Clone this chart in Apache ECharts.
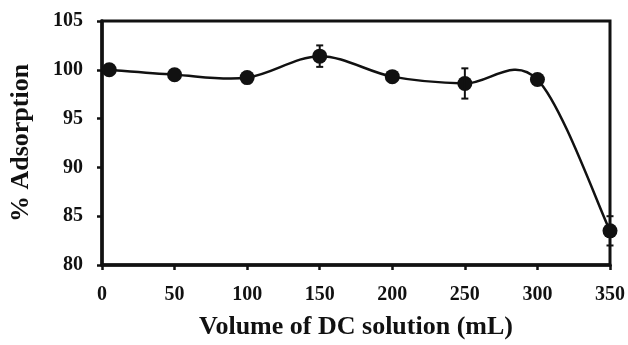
<!DOCTYPE html>
<html>
<head>
<meta charset="utf-8">
<script src="https://cdn.jsdelivr.net/npm/echarts@6/dist/echarts.min.js"></script>
<style>html,body{margin:0;padding:0;background:#fff}#c{width:628px;height:345px}</style>
</head>
<body>
<div id="c"></div>
<script>
var volumes = [5, 50, 100, 150, 200, 250, 300, 350];
var adsorption = [100.0, 99.5, 99.2, 101.4, 99.3, 98.6, 99.0, 83.5];
var errors = [0, 0, 0, 1.1, 0, 1.55, 0, 1.5];
var xTicks = [0, 50, 100, 150, 200, 250, 300, 350];
var yTicks = [80, 85, 90, 95, 100, 105];

var chart = echarts.init(document.getElementById('c'));
var font = 'Liberation Serif';
var lineData = volumes.map(function (v, i) { return [v, adsorption[i]]; });
var errData = volumes.map(function (v, i) { return [v, adsorption[i] - errors[i], adsorption[i] + errors[i]]; })
  .filter(function (d, i) { return errors[i] > 0; });

chart.setOption({
  animation: false,
  grid: { left: 101, right: 16, top: 21, bottom: 76, show: true, borderColor: '#111', borderWidth: 3 },
  xAxis: {
    type: 'value', min: 0, max: 350, interval: 50,
    name: 'Volume of DC solution (mL)', nameLocation: 'middle', nameGap: 49,
    nameTextStyle: { fontFamily: font, fontWeight: 'bold', fontSize: 26, color: '#111' },
    axisLine: { show: true, lineStyle: { color: '#111', width: 3.5 } },
    axisTick: { show: true, length: 5, lineStyle: { color: '#111', width: 2.5 } },
    axisLabel: { fontFamily: font, fontWeight: 'bold', fontSize: 20, color: '#111', margin: 20,
      formatter: function (v) { return xTicks.indexOf(v) >= 0 ? String(v) : ''; } },
    splitLine: { show: false }
  },
  yAxis: {
    type: 'value', min: 80, max: 105, interval: 5,
    name: '% Adsorption', nameLocation: 'middle', nameGap: 68,
    nameTextStyle: { fontFamily: font, fontWeight: 'bold', fontSize: 26, color: '#111' },
    axisLine: { show: true, lineStyle: { color: '#111', width: 3.5 } },
    axisTick: { show: true, length: 5, lineStyle: { color: '#111', width: 2.5 } },
    axisLabel: { fontFamily: font, fontWeight: 'bold', fontSize: 20, color: '#111', margin: 19,
      formatter: function (v) { return yTicks.indexOf(v) >= 0 ? String(v) : ''; } },
    splitLine: { show: false }
  },
  series: [
    {
      type: 'custom', data: lineData, z: 2,
      renderItem: function (params, api) {
        var i = params.dataIndex, n = volumes.length;
        if (i >= n - 1) return null;
        function pt(j) { j = Math.max(0, Math.min(n - 1, j)); return api.coord([volumes[j], adsorption[j]]); }
        var p0 = pt(i - 1), p1 = pt(i), p2 = pt(i + 1), p3 = pt(i + 2);
        var t = 1 / 6;
        return {
          type: 'bezierCurve',
          shape: {
            x1: p1[0], y1: p1[1], x2: p2[0], y2: p2[1],
            cpx1: p1[0] + (p2[0] - p0[0]) * t, cpy1: p1[1] + (p2[1] - p0[1]) * t,
            cpx2: p2[0] - (p3[0] - p1[0]) * t, cpy2: p2[1] - (p3[1] - p1[1]) * t
          },
          style: { stroke: '#111', lineWidth: 2.5, fill: null }
        };
      }
    },
    {
      type: 'scatter', data: lineData, symbol: 'circle', symbolSize: 15,
      itemStyle: { color: '#111', opacity: 1 }, z: 3
    },
    {
      type: 'custom', data: errData, z: 4,
      renderItem: function (params, api) {
        var x = api.value(0);
        var lo = api.coord([x, api.value(1)]);
        var hi = api.coord([x, api.value(2)]);
        var w = 3.5;
        var st = { stroke: '#111', lineWidth: 2 };
        return { type: 'group', children: [
          { type: 'line', shape: { x1: lo[0], y1: lo[1], x2: hi[0], y2: hi[1] }, style: st },
          { type: 'line', shape: { x1: lo[0] - w, y1: lo[1], x2: lo[0] + w, y2: lo[1] }, style: st },
          { type: 'line', shape: { x1: hi[0] - w, y1: hi[1], x2: hi[0] + w, y2: hi[1] }, style: st }
        ] };
      }
    }
  ]
});
</script>
</body>
</html>
